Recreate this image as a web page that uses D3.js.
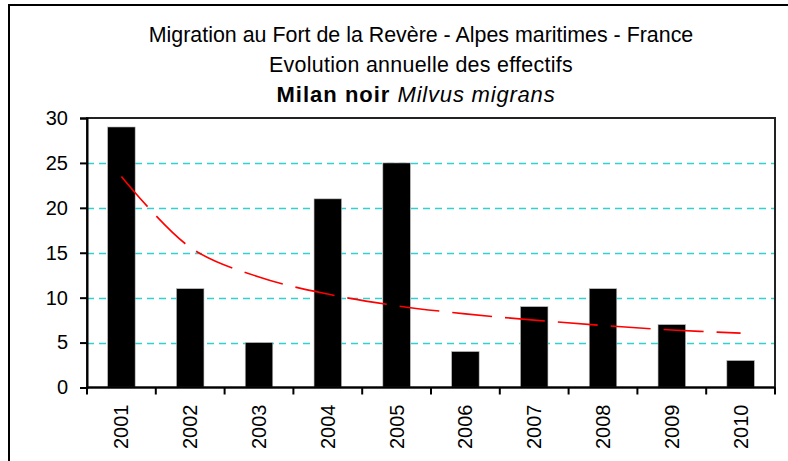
<!DOCTYPE html>
<html><head><meta charset="utf-8">
<script src="https://cdn.jsdelivr.net/npm/d3@7"></script>
<style>body{margin:0;background:#fff;}svg{display:block;font-family:"Liberation Sans",Arial,sans-serif;}</style>
</head><body>
<script>
const years = ["2001","2002","2003","2004","2005","2006","2007","2008","2009","2010"];
const counts = [29, 11, 5, 21, 25, 4, 9, 11, 7, 3];
// power trend line values
const trendValues = [23.5, 15.6, 12.3, 10.4, 9.1, 8.2, 7.5, 6.9, 6.4, 6.05];
const yTicks = [0, 5, 10, 15, 20, 25, 30];
const titleLines = ["Migration au Fort de la Revère - Alpes maritimes - France", "Evolution annuelle des effectifs"];
const speciesCommon = "Milan noir ";
const speciesLatin = "Milvus migrans";

const W = 788, H = 461;
const svg = d3.select("body").append("svg").attr("width", W).attr("height", H);
const plot = {l: 87, r: 775, t: 118, b: 387.5};

// outer border
svg.append("rect").attr("x", 9).attr("y", 5).attr("width", 900).attr("height", 600)
  .attr("fill", "none").attr("stroke", "#000").attr("stroke-width", 2);

const x = d3.scaleBand().domain(years).range([plot.l, plot.r]).padding(0);
const y = d3.scaleLinear().domain([0, 30]).range([plot.b, plot.t]);

// gridlines
svg.append("g").selectAll("line").data(yTicks.filter(v => v > 0 && v < 30)).join("line")
  .attr("x1", plot.l).attr("x2", plot.r).attr("y1", d => Math.round(y(d)) + 0.5).attr("y2", d => Math.round(y(d)) + 0.5)
  .attr("stroke", "#33d0d0").attr("stroke-width", 1.6).attr("stroke-dasharray", "7,5");

// bars
const bw = x.bandwidth() / 2.5;
svg.append("g").selectAll("rect").data(counts).join("rect")
  .attr("x", (d, i) => x(years[i]) + (x.bandwidth() - bw) / 2)
  .attr("y", d => y(d)).attr("width", bw).attr("height", d => y(0) - y(d))
  .attr("fill", "#000").attr("stroke", "#bbb").attr("stroke-width", 0.6);

// trend line
const line = d3.line().x((d, i) => x(years[i]) + x.bandwidth() / 2).y(d => y(d)).curve(d3.curveCatmullRom);
svg.append("path").datum(trendValues).attr("d", line).attr("fill", "none")
  .attr("stroke", "#ff0000").attr("stroke-width", 1.6).attr("stroke-dasharray", "40,13");

// plot frame
svg.append("rect").attr("x", plot.l).attr("y", plot.t).attr("width", plot.r - plot.l).attr("height", plot.b - plot.t)
  .attr("fill", "none").attr("stroke", "#222").attr("stroke-width", 2);

// y axis
const yAxis = d3.axisLeft(y).tickValues(yTicks).tickSize(7).tickPadding(12);
const gy = svg.append("g").attr("transform", `translate(${plot.l},0)`).call(yAxis);
gy.select(".domain").attr("stroke", "#000").attr("stroke-width", 2);
gy.selectAll(".tick line").attr("stroke", "#000").attr("stroke-width", 2);
gy.selectAll(".tick text").attr("font-size", 20).attr("fill", "#000").attr("font-family", "Liberation Sans, Arial, sans-serif");

// x axis ticks at category boundaries
const boundaries = years.map(d => x(d)).concat([plot.r]);
svg.append("g").selectAll("line").data(boundaries).join("line")
  .attr("x1", d => d).attr("x2", d => d).attr("y1", plot.b).attr("y2", plot.b + 7)
  .attr("stroke", "#000").attr("stroke-width", 2);
svg.append("line").attr("x1", plot.l).attr("x2", plot.r).attr("y1", plot.b).attr("y2", plot.b)
  .attr("stroke", "#000").attr("stroke-width", 2);
svg.append("g").selectAll("text").data(years).join("text")
  .attr("transform", d => `translate(${x(d) + x.bandwidth() / 2 + 7},${plot.b + 17}) rotate(-90)`)
  .attr("text-anchor", "end").attr("font-size", 20).attr("fill", "#000").text(d => d);

// titles
const cx = 421;
svg.append("text").attr("x", cx).attr("y", 41.5).attr("text-anchor", "middle").attr("font-size", 21.4).text(titleLines[0]);
svg.append("text").attr("x", cx).attr("y", 71.5).attr("text-anchor", "middle").attr("font-size", 21.4).attr("letter-spacing", 0.3).text(titleLines[1]);
const t3 = svg.append("text").attr("x", 416).attr("y", 101.5).attr("text-anchor", "middle").attr("font-size", 22);
t3.append("tspan").attr("font-weight", "bold").attr("letter-spacing", 1).text(speciesCommon);
t3.append("tspan").attr("font-style", "italic").attr("letter-spacing", 0.8).text(speciesLatin);
</script>
</body></html>
